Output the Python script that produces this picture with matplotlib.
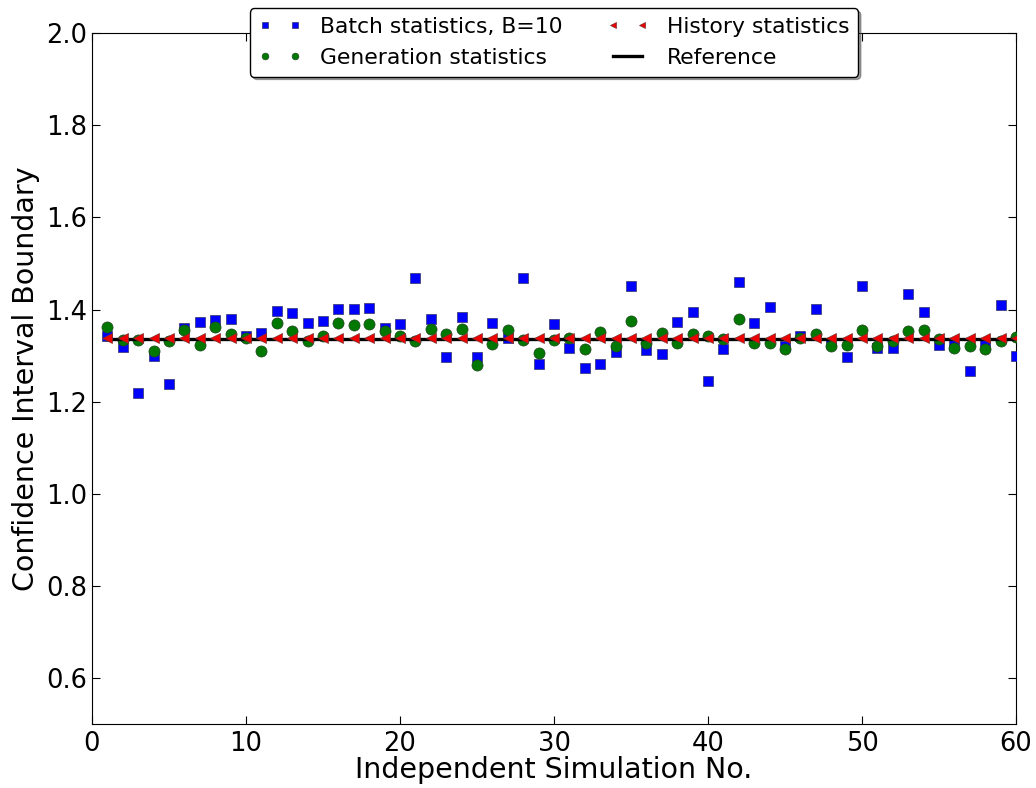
import matplotlib
matplotlib.use("Agg")
import matplotlib.pyplot as plt

sim_no = list(range(1, 61))

batch = [1.342, 1.318, 1.219, 1.299, 1.239, 1.360, 1.374, 1.378, 1.380, 1.343,
         1.348, 1.397, 1.392, 1.371, 1.376, 1.401, 1.401, 1.404, 1.360, 1.368,
         1.469, 1.380, 1.297, 1.383, 1.297, 1.371, 1.338, 1.469, 1.281, 1.368,
         1.317, 1.272, 1.281, 1.308, 1.451, 1.313, 1.303, 1.374, 1.395, 1.244,
         1.315, 1.460, 1.371, 1.406, 1.320, 1.342, 1.401, 1.328, 1.297, 1.451,
         1.317, 1.317, 1.434, 1.395, 1.324, 1.324, 1.267, 1.322, 1.410, 1.299]

generation = [1.362, 1.333, 1.333, 1.309, 1.331, 1.356, 1.323, 1.361, 1.346, 1.338,
              1.309, 1.371, 1.353, 1.332, 1.342, 1.371, 1.366, 1.368, 1.353, 1.342,
              1.332, 1.358, 1.346, 1.358, 1.279, 1.326, 1.355, 1.333, 1.306, 1.333,
              1.338, 1.315, 1.351, 1.320, 1.376, 1.327, 1.348, 1.327, 1.346, 1.342,
              1.335, 1.380, 1.327, 1.327, 1.315, 1.338, 1.346, 1.320, 1.323, 1.356,
              1.320, 1.331, 1.353, 1.356, 1.335, 1.317, 1.320, 1.315, 1.332, 1.340]

history = [1.339, 1.339, 1.339, 1.339, 1.339, 1.339, 1.339, 1.339, 1.339, 1.339,
           1.339, 1.339, 1.339, 1.339, 1.339, 1.339, 1.339, 1.339, 1.339, 1.339,
           1.339, 1.339, 1.339, 1.339, 1.339, 1.339, 1.339, 1.339, 1.339, 1.339,
           1.339, 1.339, 1.339, 1.339, 1.339, 1.339, 1.339, 1.339, 1.339, 1.339,
           1.339, 1.339, 1.339, 1.339, 1.339, 1.339, 1.339, 1.339, 1.339, 1.339,
           1.339, 1.339, 1.339, 1.339, 1.339, 1.339, 1.339, 1.339, 1.339, 1.339]

reference_x = [1, 60]
reference_y = [1.337, 1.337]

xticks = [0, 10, 20, 30, 40, 50, 60]
yticks = [0.6, 0.8, 1.0, 1.2, 1.4, 1.6, 1.8, 2.0]

fig = plt.figure(figsize=(10.36, 7.88), dpi=100)
ax = fig.add_axes([0.0888, 0.081, 0.8919, 0.877])

h_batch, = ax.plot(sim_no, batch, 's', color='#0000ff', ms=7.5, mec='#333366', mew=0.5,
                   label='Batch statistics, B=10', zorder=3)
h_gen, = ax.plot(sim_no, generation, 'o', color='#007700', ms=8, mec='#224422', mew=0.5,
                 label='Generation statistics', zorder=4)
h_ref, = ax.plot(reference_x, reference_y, '-', color='black', lw=2.4,
                 label='Reference', zorder=5)
h_hist, = ax.plot(sim_no, history, '<', color='#ee0000', ms=7.5, mec='#773333', mew=0.5,
                  label='History statistics', zorder=6)

ax.set_xlim(0, 60)
ax.set_ylim(0.5, 2.0)
ax.set_xticks(xticks)
ax.set_yticks(yticks)
ax.set_yticklabels([f"{v:.1f}" for v in yticks])
ax.tick_params(direction='in', top=True, right=True, labelsize=18.5, length=6, width=0.8)
ax.tick_params(axis='x', pad=5)
ax.set_xlabel('Independent Simulation No.', fontsize=20.5, labelpad=-1)
ax.set_ylabel('Confidence Interval Boundary', fontsize=20.5, labelpad=4)

leg = ax.legend(handles=[h_batch, h_gen, h_hist, h_ref], ncol=2, loc='upper center',
                bbox_to_anchor=(0.5, 1.036), borderaxespad=0, numpoints=2, fontsize=15.75,
                shadow=True, fancybox=True, framealpha=1, edgecolor='black', markerscale=0.6,
                columnspacing=2.0, handlelength=1.95, handletextpad=0.83,
                borderpad=0.4, labelspacing=0.5)
leg.get_frame().set_linewidth(1.0)

fig.savefig('out.png', dpi=100)
